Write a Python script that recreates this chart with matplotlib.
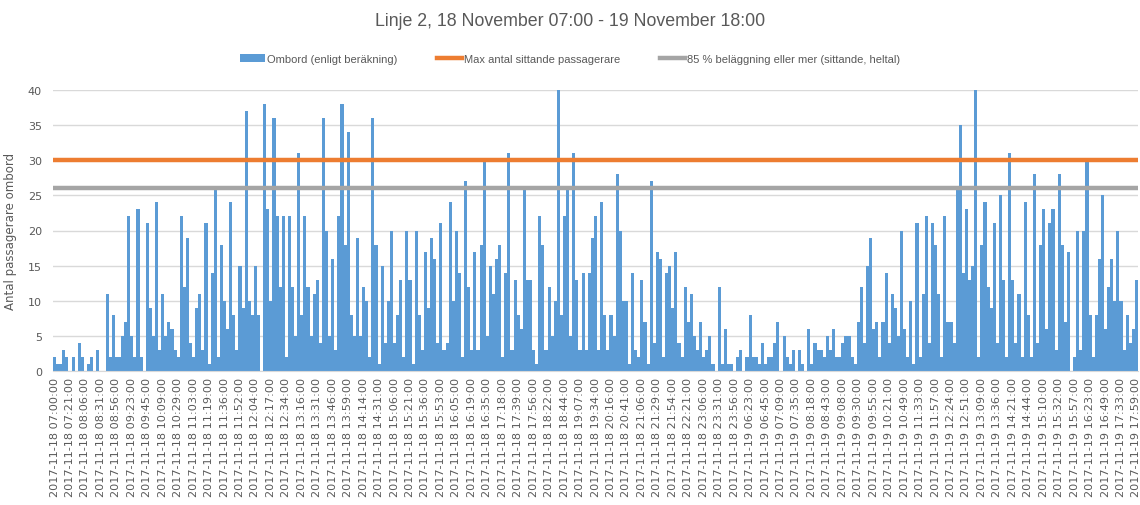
import matplotlib
matplotlib.use("Agg")
import matplotlib.pyplot as plt
from matplotlib.patches import Patch
from matplotlib.lines import Line2D
import numpy as np

# ---- data ----
onboard = [
    2, 1, 1, 3, 2, 0, 2, 0, 4, 2,
    0, 1, 2, 0, 3, 0, 0, 11, 2, 8,
    2, 2, 5, 7, 22, 5, 2, 23, 2, 0,
    21, 9, 5, 24, 3, 11, 5, 7, 6, 3,
    2, 22, 12, 19, 4, 2, 9, 11, 3, 21,
    1, 14, 26, 2, 18, 10, 6, 24, 8, 3,
    15, 9, 37, 10, 8, 15, 8, 0, 38, 23,
    10, 36, 22, 12, 22, 2, 22, 12, 5, 31,
    8, 22, 12, 5, 11, 13, 4, 36, 20, 5,
    16, 3, 22, 38, 18, 34, 8, 5, 19, 5,
    12, 10, 2, 36, 18, 1, 15, 4, 10, 20,
    4, 8, 13, 2, 20, 13, 1, 20, 8, 3,
    17, 9, 19, 16, 4, 21, 3, 4, 24, 10,
    20, 14, 2, 27, 12, 3, 17, 3, 18, 30,
    5, 15, 11, 16, 18, 2, 14, 31, 3, 13,
    8, 6, 26, 13, 13, 3, 1, 22, 18, 3,
    12, 5, 10, 40, 8, 22, 26, 5, 31, 13,
    3, 14, 3, 14, 19, 22, 3, 24, 8, 3,
    8, 5, 28, 20, 10, 10, 1, 14, 3, 2,
    13, 7, 1, 27, 4, 17, 16, 2, 14, 15,
    9, 17, 4, 2, 12, 7, 11, 5, 3, 7,
    2, 3, 5, 1, 0, 12, 1, 6, 1, 1,
    0, 2, 3, 0, 2, 8, 2, 2, 1, 4,
    1, 2, 2, 4, 7, 0, 5, 2, 1, 3,
    0, 3, 1, 0, 6, 1, 4, 3, 3, 2,
    5, 3, 6, 2, 2, 4, 5, 5, 2, 1,
    7, 12, 4, 15, 19, 6, 7, 2, 7, 14,
    4, 11, 9, 5, 20, 6, 2, 10, 1, 21,
    2, 11, 22, 4, 21, 18, 11, 2, 22, 7,
    7, 4, 26, 35, 14, 23, 13, 15, 40, 2,
    18, 24, 12, 9, 21, 4, 25, 13, 2, 31,
    13, 4, 11, 2, 24, 8, 2, 28, 4, 18,
    23, 6, 21, 23, 3, 28, 18, 7, 17, 0,
    2, 20, 3, 20, 30, 8, 2, 8, 16, 25,
    6, 12, 16, 10, 20, 10, 3, 8, 4, 6,
    13,
]
max_seated = 30
occupancy_85 = 26

times_18 = ["07:00", "07:21", "08:06", "08:31", "08:56", "09:23", "09:45", "10:09",
            "10:29", "11:03", "11:19", "11:36", "11:52", "12:04", "12:17", "12:34",
            "13:16", "13:31", "13:46", "13:59", "14:14", "14:31", "15:06", "15:21",
            "15:36", "15:53", "16:05", "16:19", "16:35", "17:18", "17:39", "17:56",
            "18:22", "18:44", "19:07", "19:34", "20:16", "20:41", "21:06", "21:29",
            "21:54", "22:21", "23:06", "23:31", "23:56"]
times_19 = ["06:23", "06:45", "07:09", "07:35", "08:18", "08:43", "09:08", "09:30",
            "09:55", "10:21", "10:49", "11:33", "11:57", "12:24", "12:51", "13:09",
            "13:36", "14:21", "14:44", "15:10", "15:32", "15:57", "16:23", "16:49",
            "17:33", "17:59"]
tick_labels = ["2017-11-18 %s:00" % t for t in times_18] + \
              ["2017-11-19 %s:00" % t for t in times_19]
tick_step = 5

# ---- styling ----
BLUE = "#5B9BD5"
ORANGE = "#ED7D31"
GRAY = "#A5A5A5"
TXT = "#595959"
GRID = "#D9D9D9"
NARROW = ["Liberation Sans Narrow", "Liberation Sans", "DejaVu Sans"]

fig = plt.figure(figsize=(11.4, 5.06), dpi=100)
ax = fig.add_axes([53 / 1140, 1 - 372 / 506, (1138 - 53) / 1140, (372 - 91) / 506])

x = np.arange(len(onboard))
ax.bar(x, onboard, width=1.0, color=BLUE, linewidth=0, zorder=2)
ax.axhline(max_seated, color=ORANGE, linewidth=3.2, zorder=3)
ax.axhline(occupancy_85, color=GRAY, linewidth=3.2, zorder=3)

ax.set_xlim(-0.5, len(onboard) - 0.5)
ax.set_ylim(0, 40)
ax.set_yticks(range(0, 41, 5))
ax.yaxis.grid(True, color=GRID, linewidth=1, zorder=0)
ax.set_axisbelow(True)
for s in ["top", "right", "left"]:
    ax.spines[s].set_visible(False)
ax.spines["bottom"].set_color(GRID)

ticks = x[::tick_step][:len(tick_labels)]
ax.set_xticks(ticks)
ax.set_xticklabels(tick_labels[:len(ticks)], rotation=90, fontsize=8.1, color=TXT)
ax.tick_params(axis="x", length=0, pad=4)
ax.tick_params(axis="y", length=0, labelsize=8, labelcolor=TXT, pad=8)

ax.set_ylabel("Antal passagerare ombord", fontsize=8.5, color=TXT, labelpad=8)

fig.text(0.5, 1 - 22 / 506, "Linje 2, 18 November 07:00 - 19 November 18:00",
         ha="center", va="center", fontsize=12.8, color=TXT, family=NARROW)

handles = [Patch(facecolor=BLUE, edgecolor="none"),
           Line2D([0], [0], color=ORANGE, linewidth=3.2),
           Line2D([0], [0], color=GRAY, linewidth=3.2)]
labels = ["Ombord (enligt beräkning)", "Max antal sittande passagerare",
          "85 % beläggning eller mer (sittande, heltal)"]
leg = fig.legend(handles, labels, loc="center", bbox_to_anchor=(0.5, 1 - 60 / 506),
                 ncol=3, frameon=False, handlelength=2.2,
                 handletextpad=0.2, columnspacing=3.6,
                 prop={"family": NARROW, "size": 8})
for t in leg.get_texts():
    t.set_color(TXT)

fig.savefig("out.png", dpi=100)
